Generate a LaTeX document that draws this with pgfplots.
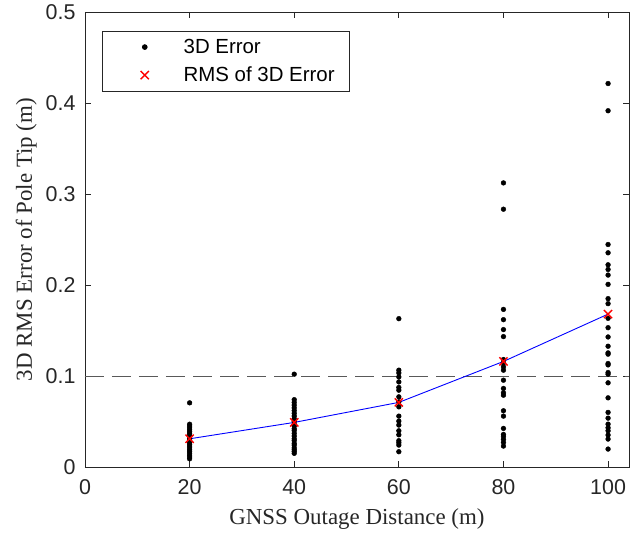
\documentclass[border=0pt]{standalone}
\usepackage{pgfplots}
\pgfplotsset{compat=1.18}
\usepackage{fontspec}
\setmainfont{Liberation Serif}
\newfontfamily\arial{Liberation Sans}
\definecolor{axgray}{rgb}{0.15,0.15,0.15}
\pgfplotsset{myleg/.style={legend image code/.code={\path (0bp,0bp) (66bp,0bp); \draw[##1] plot coordinates {(29.5bp,0bp)};}}}
\begin{document}
\begin{tikzpicture}
\begin{axis}[
  scale only axis, width=544bp, height=455bp,
  xmin=0, xmax=104, ymin=0, ymax=0.5,
  xtick={0,20,40,60,80,100}, ytick={0,0.1,0.2,0.3,0.4,0.5},
  xtick pos=both, ytick pos=both, tick align=inside,
  major tick length=6bp,
  axis line style={axgray, line width=0.8bp},
  every tick/.style={axgray, line width=0.8bp},
  /pgf/number format/assume math mode=true,
  /pgf/number format/fixed, /pgf/number format/precision=1,
  tick label style={font=\arial\fontsize{21.5}{25}\selectfont, text=axgray},
  xticklabel style={yshift=-9bp},
  yticklabel style={xshift=-6bp},
  xlabel={GNSS Outage Distance (m)}, ylabel={3D RMS Error of Pole Tip (m)},
  label style={font=\fontsize{23}{26}\selectfont, text=axgray},
  xlabel style={yshift=-7bp},
  ylabel style={yshift=2bp},
  legend cell align=left,
  legend style={at={(0.031,0.958)}, anchor=north west, draw=axgray, line width=0.8bp,
    font=\arial\fontsize{20.5}{24}\selectfont, text=black, inner xsep=12.6bp, inner ysep=5.7bp,
    row sep=8bp},
]
\addplot[gray!70!black, dash pattern=on 19bp off 8bp, line width=0.8bp, forget plot] coordinates {(0,0.1) (104,0.1)};
\addplot[only marks, mark=*, mark size=2.4bp, black, myleg] coordinates {
(20,0.0705) (20,0.047) (20,0.045) (20,0.043) (20,0.041) (20,0.039) (20,0.037) (20,0.035) (20,0.033) (20,0.031) (20,0.029) (20,0.027) (20,0.025) (20,0.023) (20,0.021) (20,0.019) (20,0.017) (20,0.015) (20,0.013) (20,0.011) (20,0.009)
(40,0.102) (40,0.074) (40,0.071) (40,0.068) (40,0.065) (40,0.062) (40,0.059) (40,0.056) (40,0.053) (40,0.050) (40,0.047) (40,0.045) (40,0.042) (40,0.040) (40,0.037) (40,0.034) (40,0.031) (40,0.029) (40,0.026) (40,0.024) (40,0.021) (40,0.019) (40,0.017) (40,0.015)
(60,0.163) (60,0.1064) (60,0.1034) (60,0.099) (60,0.0935) (60,0.0874) (60,0.0844) (60,0.0771) (60,0.0716) (60,0.0661) (60,0.0559) (60,0.0504) (60,0.0461) (60,0.0398) (60,0.0354) (60,0.0289) (60,0.0267) (60,0.0241) (60,0.0168)
(80,0.3122) (80,0.2833) (80,0.1732) (80,0.1619) (80,0.151) (80,0.1433) (80,0.1181) (80,0.1144) (80,0.11) (80,0.1064) (80,0.0954) (80,0.0863) (80,0.0815) (80,0.0789) (80,0.0618) (80,0.0559) (80,0.0424) (80,0.0358) (80,0.0333) (80,0.0303) (80,0.027) (80,0.023)
(100,0.4214) (100,0.3915) (100,0.2445) (100,0.2354) (100,0.2222) (100,0.2171) (100,0.2109) (100,0.2007) (100,0.185) (100,0.1795) (100,0.1634) (100,0.1531) (100,0.1429) (100,0.1327) (100,0.1254) (100,0.124) (100,0.1137) (100,0.1122) (100,0.1038) (100,0.102) (100,0.0925) (100,0.076) (100,0.06) (100,0.0537) (100,0.0471) (100,0.0431) (100,0.0398) (100,0.0351) (100,0.0307) (100,0.0197)
};
\addlegendentry{3D Error}
\addplot[blue, line width=0.9bp, forget plot] coordinates {(20,0.031) (40,0.049) (60,0.071) (80,0.116) (100,0.168)};
\addplot[only marks, mark=x, mark size=5.8bp, red, mark options={line width=1.4bp}, myleg] coordinates {(20,0.031) (40,0.049) (60,0.071) (80,0.116) (100,0.168)};
\addlegendentry{RMS of 3D Error}
\end{axis}
\path ([xshift=-85bp,yshift=-71bp]current axis.south west) rectangle ([xshift=6bp,yshift=12bp]current axis.north east);
\end{tikzpicture}
\end{document}
